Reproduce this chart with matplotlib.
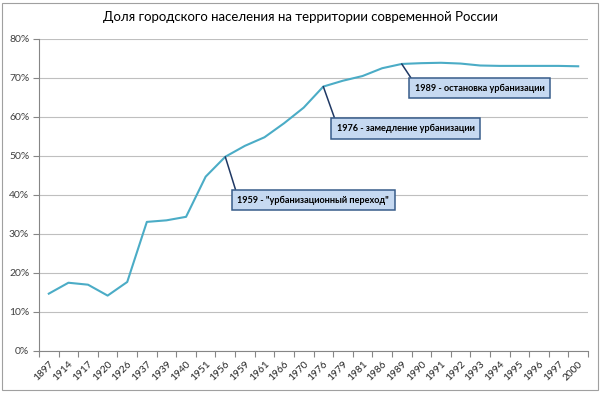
import matplotlib
matplotlib.use("Agg")
import matplotlib.pyplot as plt
import numpy as np
from matplotlib.patches import Rectangle

plt.rcParams['font.family'] = ['Lato', 'DejaVu Sans']

years = ['1897', '1914', '1917', '1920', '1926', '1937', '1939', '1940', '1951', '1956',
         '1959', '1961', '1966', '1970', '1976', '1979', '1981', '1986', '1989', '1990',
         '1991', '1992', '1993', '1994', '1995', '1996', '1997', '2000']
urban_share = [14.7, 17.5, 17.0, 14.2, 17.7, 33.1, 33.5, 34.4, 44.7, 49.8,
               52.6, 54.8, 58.4, 62.4, 67.8, 69.3, 70.5, 72.5, 73.6, 73.8,
               73.9, 73.7, 73.2, 73.1, 73.1, 73.1, 73.1, 73.0]
y_ticks = [0, 10, 20, 30, 40, 50, 60, 70, 80]
y_tick_labels = ['0%', '10%', '20%', '30%', '40%', '50%', '60%', '70%', '80%']
title = 'Доля городского населения на территории современной России'
notes = ['1959 - "урбанизационный переход"', '1976 - замедление урбанизации', '1989 - остановка урбанизации']
note_years = ['1956', '1976', '1989']

fig = plt.figure(figsize=(6.0, 3.97), dpi=100)
ax = fig.add_axes([0.065, 0.1159, 0.915, 0.7859])

# outer chart border
fig.patches.append(Rectangle((2 / 600, 1 - 390 / 397), (597.5 - 2) / 600, (390 - 3) / 397,
                             transform=fig.transFigure, fill=False, edgecolor='#a0a0a0',
                             linewidth=0.8))

x = np.arange(len(years))
ax.plot(x, urban_share, color='#4bacc6', linewidth=1.5, solid_joinstyle='round', zorder=3)

ax.set_xlim(-0.5, len(years) - 0.5)
ax.set_ylim(0, 80)
ax.set_yticks(y_ticks)
ax.set_yticklabels(y_tick_labels)
ax.yaxis.grid(True, color='#bfbfbf', linewidth=0.8)
ax.set_axisbelow(True)

ax.set_xticks(x)
ax.set_xticklabels(years, rotation=45, ha='right', va='top', rotation_mode='anchor')
ax.set_xticks(np.arange(len(years) + 1) - 0.5, minor=True)
ax.tick_params(axis='x', which='major', length=0, pad=6, labelsize=7.3, labelcolor='#262626')
ax.tick_params(axis='x', which='minor', length=4, width=0.8, color='#868686')
ax.tick_params(axis='y', length=4, width=0.8, color='#868686', labelsize=7.5,
               labelcolor='#404040', pad=3)

for s in ['top', 'right']:
    ax.spines[s].set_visible(False)
for s in ['left', 'bottom']:
    ax.spines[s].set_color('#868686')
    ax.spines[s].set_linewidth(0.8)

fig.text(0.5, 1 - 17 / 397, title, ha='center', va='center', fontsize=9.5, color='#000000')

# annotations (offsets in points)
offsets = [(8.7, -27.9), (9.6, -26.9), (9.4, -14.2)]
for note, ny, off in zip(notes, note_years, offsets):
    i = years.index(ny)
    ax.annotate(note, xy=(i, urban_share[i]), xytext=off, textcoords='offset points',
                ha='left', va='top', fontsize=6.6, fontweight='bold', color='#000000',
                bbox=dict(boxstyle='square,pad=0.6', facecolor='#c6d9f1',
                          edgecolor='#385d8a', linewidth=1.1),
                arrowprops=dict(arrowstyle='-', color='#1f3864', linewidth=1.1,
                                relpos=(0, 1), shrinkA=0, shrinkB=0),
                zorder=4)

fig.savefig('out.png', dpi=100)
